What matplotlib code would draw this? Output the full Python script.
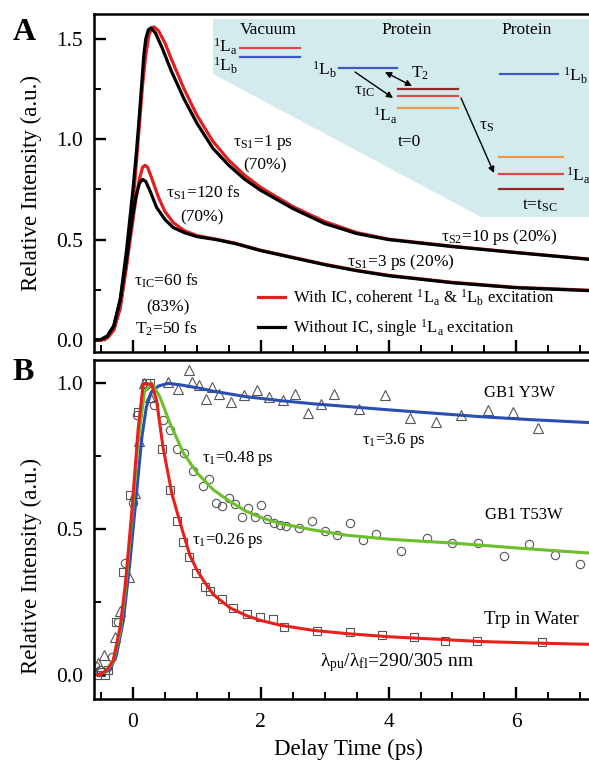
import numpy as np
import matplotlib
matplotlib.use('Agg')
import matplotlib.pyplot as plt
from matplotlib.ticker import MultipleLocator
from matplotlib.patches import Polygon, FancyArrowPatch
from matplotlib.lines import Line2D

plt.rcParams['font.family'] = ['Liberation Serif', 'DejaVu Serif']
plt.rcParams['mathtext.fontset'] = 'custom'
plt.rcParams['mathtext.rm'] = 'Liberation Serif'
plt.rcParams['mathtext.it'] = 'Liberation Serif:italic'
plt.rcParams['mathtext.bf'] = 'Liberation Serif:bold'

# ---------------- Panel A data (simulated curves) ----------------
a_big_black_x = [-0.62, -0.5, -0.4, -0.3, -0.2, -0.16, -0.1, -0.04, 0.0, 0.06, 0.1, 0.14, 0.17, 0.2, 0.24, 0.28,
                 0.35, 0.45, 0.6, 0.8, 1.0, 1.1, 1.25, 1.5, 1.75, 2.0, 2.5, 3.0, 3.5, 4.0, 5.0, 6.0, 7.2]
a_big_black_y = [0.0, 0.002, 0.02, 0.07, 0.2, 0.30, 0.45, 0.63, 0.75, 0.96, 1.12, 1.29, 1.42, 1.50, 1.545, 1.555,
                 1.53, 1.46, 1.34, 1.20, 1.08, 1.03, 0.955, 0.87, 0.80, 0.745, 0.655, 0.58, 0.53, 0.50, 0.465, 0.435, 0.40]
a_big_red_x = [-0.62, -0.5, -0.4, -0.3, -0.2, -0.1, 0.0, 0.05, 0.1, 0.15, 0.2, 0.25, 0.3, 0.33,
               0.4, 0.5, 0.6, 0.8, 1.0, 1.25, 1.5, 1.75, 2.0, 2.5, 3.0, 3.5, 4.0, 5.0, 6.0, 7.2]
a_big_red_y = [0.0, 0.0, 0.01, 0.05, 0.16, 0.38, 0.68, 0.87, 1.07, 1.27, 1.42, 1.52, 1.555, 1.56,
               1.54, 1.48, 1.40, 1.25, 1.12, 0.99, 0.895, 0.82, 0.76, 0.665, 0.59, 0.535, 0.502, 0.467, 0.436, 0.401]
a_small_black_x = [-0.62, -0.5, -0.4, -0.3, -0.2, -0.1, -0.05, 0.0, 0.05, 0.1, 0.15, 0.2, 0.27, 0.37, 0.5,
                   0.63, 0.8, 1.0, 1.3, 1.6, 2.0, 2.5, 3.0, 3.5, 4.0, 5.0, 6.0, 7.2]
a_small_black_y = [0.0, 0.002, 0.02, 0.07, 0.2, 0.40, 0.52, 0.63, 0.72, 0.78, 0.80, 0.79, 0.74, 0.66, 0.60,
                   0.56, 0.535, 0.515, 0.50, 0.48, 0.445, 0.41, 0.375, 0.345, 0.32, 0.285, 0.26, 0.245]
a_small_red_x = [-0.62, -0.5, -0.4, -0.3, -0.2, -0.1, 0.0, 0.05, 0.1, 0.15, 0.19, 0.23, 0.3, 0.4, 0.5,
                 0.63, 0.8, 1.0, 1.3, 1.6, 2.0, 2.5, 3.0, 3.5, 4.0, 5.0, 6.0, 7.2]
a_small_red_y = [0.0, 0.0, 0.01, 0.05, 0.16, 0.37, 0.60, 0.71, 0.80, 0.86, 0.87, 0.86, 0.80, 0.71, 0.64,
                 0.585, 0.545, 0.52, 0.502, 0.482, 0.447, 0.412, 0.377, 0.347, 0.322, 0.287, 0.262, 0.247]

# ---------------- Panel B data (measured + fits) ----------------
tri_x = [-0.55, -0.46, -0.28, -0.2, -0.06, 0.03, 0.1, 0.17, 0.26, 0.55, 0.71, 0.88, 0.93, 1.04, 1.14, 1.23, 1.35,
         1.53, 1.74, 1.94, 2.13, 2.34, 2.54, 2.74, 2.94, 3.14, 3.54, 3.94, 4.34, 4.74, 5.14, 5.55, 5.94, 6.34]
tri_y = [0.04, 0.068, 0.13, 0.22, 0.337, 0.625, 0.80, 1.0, 0.952, 1.005, 0.978, 1.045, 1.004, 0.995, 0.944, 0.985, 0.962,
         0.936, 0.958, 0.975, 0.951, 0.942, 0.962, 0.898, 0.93, 0.962, 0.91, 0.958, 0.881, 0.865, 0.892, 0.908, 0.902, 0.847]
circ_x = [-0.6, -0.52, -0.33, -0.23, -0.12, 0.0, 0.07, 0.19, 0.33, 0.47, 0.58, 0.69, 0.80, 0.94, 1.09, 1.19, 1.30,
          1.40, 1.50, 1.60, 1.70, 1.80, 1.91, 2.0, 2.10, 2.20, 2.30, 2.40, 2.60, 2.80, 3.0, 3.2, 3.4, 3.6, 3.8,
          4.2, 4.6, 5.0, 5.4, 5.8, 6.2, 6.6, 7.0]
circ_y = [0.03, 0.017, 0.063, 0.18, 0.385, 0.59, 0.89, 0.99, 0.925, 0.873, 0.84, 0.773, 0.76, 0.70, 0.647, 0.67, 0.59,
          0.578, 0.608, 0.585, 0.542, 0.572, 0.542, 0.582, 0.535, 0.521, 0.513, 0.509, 0.505, 0.526, 0.495, 0.478, 0.522,
          0.464, 0.484, 0.425, 0.47, 0.453, 0.451, 0.408, 0.448, 0.411, 0.382]
sq_x = [-0.57, -0.5, -0.44, -0.39, -0.26, -0.15, -0.04, 0.08, 0.21, 0.27, 0.45, 0.58, 0.69, 0.79, 0.88, 0.98, 1.13,
        1.2, 1.39, 1.57, 1.78, 1.99, 2.19, 2.37, 2.88, 3.39, 3.89, 4.39, 4.89, 5.39, 6.40]
sq_y = [0.0, 0.01, 0.0, 0.017, 0.18, 0.354, 0.616, 0.90, 1.0, 1.0, 0.773, 0.634, 0.528, 0.455, 0.405, 0.35, 0.30,
        0.289, 0.262, 0.23, 0.209, 0.20, 0.192, 0.165, 0.152, 0.149, 0.136, 0.129, 0.117, 0.115, 0.114]

fit_blue_x = [-0.62, -0.5, -0.36, -0.26, -0.15, -0.05, 0.05, 0.14, 0.21, 0.29, 0.4, 0.55, 0.74, 1.05, 1.26, 1.78,
              2.3, 2.82, 3.34, 4.02, 5.43, 6.2, 7.2]
fit_blue_y = [0.0, 0.005, 0.017, 0.068, 0.188, 0.382, 0.61, 0.816, 0.919, 0.97, 0.99, 0.999, 0.994, 0.982, 0.972, 0.953,
              0.94, 0.929, 0.92, 0.908, 0.885, 0.875, 0.864]
fit_green_x = [-0.62, -0.5, -0.41, -0.31, -0.2, -0.12, -0.02, 0.08, 0.18, 0.29, 0.42, 0.58, 0.79, 1.0, 1.26, 1.52,
               1.78, 2.0, 2.3, 2.82, 3.34, 4.02, 5.0, 5.43, 6.2, 7.2]
fit_green_y = [0.0, 0.003, 0.015, 0.045, 0.15, 0.29, 0.53, 0.80, 0.97, 1.0, 0.953, 0.862, 0.76, 0.693, 0.634, 0.594,
               0.56, 0.54, 0.519, 0.497, 0.479, 0.465, 0.452, 0.445, 0.432, 0.417]
fit_red_x = [-0.62, -0.5, -0.41, -0.31, -0.2, -0.12, -0.02, 0.08, 0.16, 0.29, 0.37, 0.47, 0.61, 0.74, 0.89, 1.0,
             1.1, 1.26, 1.52, 1.78, 2.0, 2.3, 2.82, 3.34, 4.02, 5.0, 5.43, 6.2, 7.2]
fit_red_y = [0.0, 0.003, 0.017, 0.05, 0.165, 0.31, 0.555, 0.84, 0.997, 0.997, 0.94, 0.78, 0.62, 0.52, 0.41, 0.36,
             0.325, 0.275, 0.23, 0.203, 0.187, 0.171, 0.153, 0.142, 0.131, 0.12, 0.115, 0.11, 0.105]

legend_labels = [r'With IC, coherent $^{1}$L$_{\mathrm{a}}$ & $^{1}$L$_{\mathrm{b}}$ excitation',
                 r'Without IC, single $^{1}$L$_{\mathrm{a}}$ excitation']

# ---------------- Figure ----------------
W, H = 589, 764
fig = plt.figure(figsize=(W / 100, H / 100), dpi=100)


def fr(x0, y0, x1, y1):
    return [x0 / W, 1 - y1 / H, (x1 - x0) / W, (y1 - y0) / H]


def fp(x, y):
    return (x / W, 1 - y / H)


axA = fig.add_axes(fr(94, 14, 592, 352))
axB = fig.add_axes(fr(94, 360, 592, 699))

for ax in (axA, axB):
    ax.set_xlim(-0.61, 7.183)
    for s in ax.spines.values():
        s.set_linewidth(1.8)
    ax.spines['right'].set_visible(False)
    ax.xaxis.set_major_locator(MultipleLocator(2))
    ax.xaxis.set_minor_locator(MultipleLocator(0.5))
    ax.yaxis.set_major_locator(MultipleLocator(0.5))
    ax.yaxis.set_minor_locator(MultipleLocator(0.25))
    ax.tick_params(which='major', direction='in', length=8.5, width=1.7, labelsize=15.5)
    ax.tick_params(which='minor', direction='in', length=5, width=1.4)
    ax.tick_params(axis='y', which='both', pad=8, right=False)
    ax.tick_params(axis='x', which='both', pad=10, top=False)

axA.set_ylim(-0.06, 1.624)
axB.set_ylim(-0.082, 1.079)
axA.tick_params(axis='x', labelbottom=False)

# Panel A curves
red_c = '#e41e1e'
l1, = axA.plot(a_big_red_x, a_big_red_y, color=red_c, lw=2.3)
axA.plot(a_small_red_x, a_small_red_y, color=red_c, lw=2.3)
l2, = axA.plot(a_big_black_x, a_big_black_y, color='black', lw=2.3)
axA.plot(a_small_black_x, a_small_black_y, color='black', lw=2.3)

axA.legend([l1, l2], legend_labels, loc='upper left', bbox_to_anchor=(0.329, 0.19), frameon=False,
           fontsize=12, handlelength=1.65, handletextpad=0.45, labelspacing=0.6, borderpad=0, borderaxespad=0)

axA.set_ylabel('Relative Intensity (a.u.)', fontsize=16.5)
axA.yaxis.set_label_coords(-0.105, 0.5)

# Panel B
mk = dict(linestyle='none', markerfacecolor='none', markeredgecolor='#555555', markeredgewidth=0.8)
axB.plot(tri_x, tri_y, marker='^', markersize=6.5, **mk)
axB.plot(circ_x, circ_y, marker='o', markersize=6, **mk)
axB.plot(sq_x, sq_y, marker='s', markersize=5.2, **mk)
axB.plot(fit_blue_x, fit_blue_y, color='#2a4fb0', lw=2.2)
axB.plot(fit_green_x, fit_green_y, color='#6abf2a', lw=2.2)
axB.plot(fit_red_x, fit_red_y, color='#e8201c', lw=2.2)

axB.set_ylabel('Relative Intensity (a.u.)', fontsize=16.5)
axB.yaxis.set_label_coords(-0.105, 0.392)
axB.set_xlabel('Delay Time (ps)', fontsize=16.5)
axB.xaxis.set_label_coords(0.51, -0.118)

# Panel labels
fig.text(*fp(24, 33), 'A', fontsize=23, fontweight='bold', ha='center', va='center')
fig.text(*fp(23, 372), 'B', fontsize=23, fontweight='bold', ha='center', va='center')


def t(x, y, s, size=12.5, **kw):
    kw.setdefault('ha', 'center')
    kw.setdefault('va', 'center')
    fig.text(*fp(x, y), s, fontsize=size, **kw)


# Panel A annotations
t(263, 142, r'τ$_{\mathrm{S1}}$=1 ps')
t(265, 165, '(70%)')
t(203, 193, r'τ$_{\mathrm{S1}}$=120 fs')
t(202, 217, '(70%)')
t(167, 281, r'τ$_{\mathrm{IC}}$=60 fs')
t(168, 307, '(83%)')
t(166, 329, r'T$_{2}$=50 fs')
t(499, 237, r'τ$_{\mathrm{S2}}$=10 ps (20%)')
t(401, 262, r'τ$_{\mathrm{S1}}$=3 ps (20%)')

# Inset energy diagram
poly = Polygon([fp(213, 19), fp(600, 19), fp(600, 217), fp(481, 217), fp(213, 74)], closed=True,
               transform=fig.transFigure, facecolor='#d4ebee', edgecolor='none', zorder=0.5)
fig.add_artist(poly)

c_red, c_blue, c_or, c_dr = '#e04848', '#3c5abe', '#f0964a', '#962828'


def hl(x0, x1, y, c):
    (fx0, fy), (fx1, _) = fp(x0, y), fp(x1, y)
    fig.add_artist(Line2D([fx0, fx1], [fy, fy], color=c, lw=1.6, transform=fig.transFigure))


hl(240, 300, 48, c_red)
hl(240, 300, 57, c_blue)
hl(339, 397, 68, c_blue)
hl(398, 458, 89, c_dr)
hl(398, 458, 96, c_red)
hl(398, 458, 108, c_or)
hl(500, 558, 74, c_blue)
hl(499, 563, 157, c_or)
hl(499, 563, 174, c_red)
hl(499, 563, 189, c_dr)

t(268, 30, 'Vacuum', 12.5)
t(407, 30, 'Protein', 12.5)
t(527, 30, 'Protein', 12.5)
t(238, 52, r'$^{1}$L$_{\mathrm{a}}$', 12.5, ha='right', va='baseline')
t(238, 71, r'$^{1}$L$_{\mathrm{b}}$', 12.5, ha='right', va='baseline')
t(337, 75, r'$^{1}$L$_{\mathrm{b}}$', 12.5, ha='right', va='baseline')
t(398, 121, r'$^{1}$L$_{\mathrm{a}}$', 12.5, ha='right', va='baseline')
t(563, 81, r'$^{1}$L$_{\mathrm{b}}$', 12.5, ha='left', va='baseline')
t(566, 181, r'$^{1}$L$_{\mathrm{a}}$', 12.5, ha='left', va='baseline')
t(409, 142, 't=0', 12.5)
t(540, 206, r't=t$_{\mathrm{SC}}$', 12.5)
t(364, 91, r'τ$_{\mathrm{IC}}$', 12.5)
t(420, 73, r'T$_{2}$', 12.5)
t(487, 126, r'τ$_{\mathrm{S}}$', 12.5)


def arr(p0, p1, style='-|>'):
    a = FancyArrowPatch(fp(*p0), fp(*p1), transform=fig.transFigure, arrowstyle=style,
                        mutation_scale=9, lw=1.0, color='black', shrinkA=0, shrinkB=0)
    fig.add_artist(a)


arr((355, 72), (393, 98))
arr((385, 72), (412, 86), '<|-|>')
arr((461, 98), (494, 173))

# Panel B annotations
t(520, 393, 'GB1 Y3W', 12)
t(524, 515, 'GB1 T53W', 12)
t(531, 620, 'Trp in Water', 13.5)
t(397, 663, r'λ$_{\mathrm{pu}}$/λ$_{\mathrm{fl}}$=290/305 nm', 14)
t(394, 440, r'τ$_{1}$=3.6 ps', 12)
t(238, 458, r'τ$_{1}$=0.48 ps', 12)
t(228, 540, r'τ$_{1}$=0.26 ps', 12)

fig.savefig('out.png', dpi=100)
